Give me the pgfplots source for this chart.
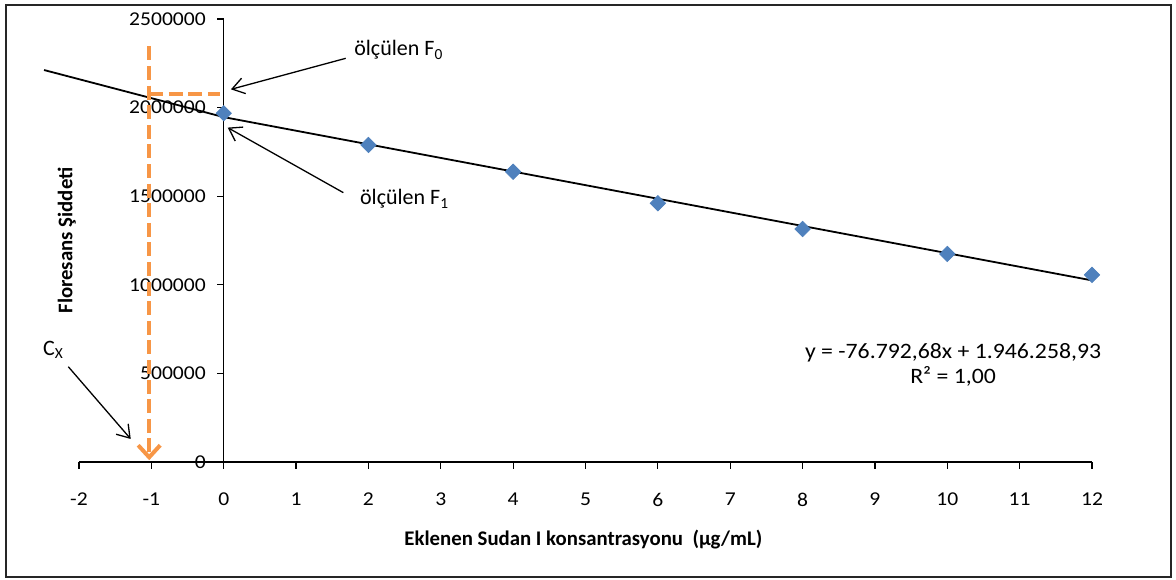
\documentclass[border=0pt]{standalone}
\usepackage{fontspec}
\setmainfont{Carlito}
\newfontfamily\tickfont{Carlito}[FakeStretch=1.1]
\newfontfamily\eqfont{Carlito}[FakeStretch=1.08]
\usepackage{pgfplots}
\pgfplotsset{compat=1.18}
\usetikzlibrary{arrows.meta}
\definecolor{exblue}{RGB}{79,129,189}
\definecolor{exorange}{RGB}{247,150,70}
\begin{document}
\begin{tikzpicture}
\begin{axis}[
  set layers,
  scale only axis,
  width=506.5pt, height=221.5pt,
  xmin=-2, xmax=12, ymin=0, ymax=2500000,
  axis x line=bottom, axis y line=middle,
  hide obscured x ticks=false, hide obscured y ticks=false,
  axis line style={-, line width=0.6pt, black},
  xtick={-2,-1,...,12}, ytick={0,500000,1000000,1500000,2000000,2500000},
  tick align=outside, major tick length=3.3pt,
  tick style={black, line width=0.6pt},
  scaled y ticks=false,
  /pgf/number format/fixed,
  /pgf/number format/precision=0,
  /pgf/number format/1000 sep={},
  /pgf/number format/assume math mode=true,
  tick label style={font=\tickfont\fontsize{9.8}{12}\selectfont, inner sep=0pt},
  xticklabel style={anchor=center, yshift=-15.5pt},
  yticklabel style={anchor=east, xshift=-5.5pt},
  clip=false,
]
\coordinate (BL) at (rel axis cs:0,0);
\coordinate (TR) at (rel axis cs:1,1);
\addplot[only marks, mark=square*, mark size=2.7pt, mark options={rotate=45, fill=exblue, draw=exblue}]
  coordinates {(0,1968000)(2,1789000)(4,1638000)(6,1460000)(8,1315000)(10,1174000)(12,1056000)};
\addplot[black, line width=0.9pt] coordinates {(-2.483,2212000)(0,1946259)(12,1024747)};
\addplot[exorange, line width=2pt, dash pattern=on 7pt off 2.8pt] coordinates {(-1.03,2075000)(-0.05,2075000)};
\addplot[exorange, line width=2pt, dash pattern=on 7pt off 2.8pt, -{Straight Barb[length=6pt,width=11pt]}]
  coordinates {(-1.03,2345000)(-1.03,10000)};
\draw[black, line width=0.65pt, -{Straight Barb[length=6pt,width=8pt]}] (axis cs:1.686,2278000) -- (axis cs:0.10,2103000);
\draw[black, line width=0.65pt, -{Straight Barb[length=6pt,width=8pt]}] (axis cs:1.653,1520000) -- (axis cs:0.055,1887000);
\draw[black, line width=0.65pt, -{Straight Barb[length=6pt,width=8pt]}] (axis cs:-2.148,537800) -- (axis cs:-1.285,129800);
\node[anchor=west, font=\fontsize{11}{12}\selectfont, inner sep=0pt] at (axis cs:1.80,2325000) {ölçülen F\textsubscript{0}};
\node[anchor=west, font=\fontsize{11}{12}\selectfont, inner sep=0pt] at (axis cs:1.88,1484000) {ölçülen F\textsubscript{1}};
\node[anchor=west, font=\fontsize{11}{12}\selectfont, inner sep=0pt] at (axis cs:-2.50,632000) {C\textsubscript{X}};
\node[align=center, font=\eqfont\fontsize{11}{12.5}\selectfont, inner sep=0pt] at (axis cs:10.08,550000) {y = -76.792,68x + 1.946.258,93\\R² = 1,00};
\node[rotate=90, font=\bfseries\fontsize{10.4}{12}\selectfont, inner sep=0pt] at (axis cs:-2.17,1250000) {Floresans Şiddeti};
\node[font=\bfseries\fontsize{10.4}{12}\selectfont, inner sep=0pt] at (axis cs:4.97,-440000) {Eklenen Sudan I konsantrasyonu\ \ (µg/mL)};
\end{axis}
\draw[line width=0.8pt, black!85] ([shift={(-36.5pt,-57.5pt)}]BL) rectangle ([shift={(39.5pt,7pt)}]TR);
\pgfresetboundingbox
\path[use as bounding box] ([shift={(-39.5pt,-59pt)}]BL) rectangle ([shift={(42pt,9.5pt)}]TR);
\end{tikzpicture}
\end{document}
